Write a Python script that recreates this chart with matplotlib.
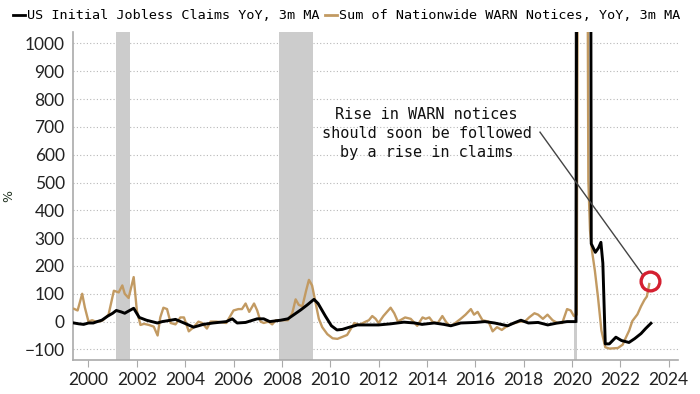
import matplotlib
matplotlib.use('Agg')
import matplotlib.pyplot as plt
from matplotlib.lines import Line2D

# Sum of Nationwide WARN Notices, YoY, 3m MA (%)
warn_t = [1999.4, 1999.55, 1999.74, 1999.85, 2000.0, 2000.15, 2000.3, 2000.45, 2000.6, 2000.83,
          2001.05, 2001.25, 2001.4, 2001.5, 2001.66, 2001.87, 2002.0, 2002.15, 2002.3, 2002.5,
          2002.7, 2002.86, 2002.97, 2003.1, 2003.25, 2003.4, 2003.6, 2003.8, 2003.95, 2004.15,
          2004.35, 2004.55, 2004.7, 2004.9, 2005.05, 2005.3, 2005.7, 2006.0, 2006.2, 2006.35,
          2006.5, 2006.65, 2006.85, 2006.98, 2007.12, 2007.25, 2007.45, 2007.6, 2007.75, 2007.95,
          2008.25, 2008.43, 2008.57, 2008.7, 2008.85, 2009.0, 2009.12, 2009.25, 2009.4, 2009.53,
          2009.67, 2009.88, 2010.1, 2010.3, 2010.5, 2010.7, 2011.0, 2011.2, 2011.47, 2011.6,
          2011.74, 2011.88, 2012.0, 2012.2, 2012.5, 2012.65, 2012.8, 2013.0, 2013.1, 2013.33,
          2013.6, 2013.82, 2013.95, 2014.1, 2014.25, 2014.45, 2014.64, 2014.8, 2014.95, 2015.1,
          2015.4, 2015.6, 2015.82, 2015.95, 2016.1, 2016.3, 2016.55, 2016.72, 2016.9, 2017.1,
          2017.25, 2017.45, 2017.65, 2017.85, 2018.05, 2018.23, 2018.45, 2018.6, 2018.8, 2018.99,
          2019.2, 2019.4, 2019.6, 2019.8, 2019.95, 2020.08, 2020.2, 2020.28, 2020.6, 2020.68,
          2020.75, 2020.83, 2020.95, 2021.08, 2021.22, 2021.38, 2021.55, 2021.9, 2022.1, 2022.24,
          2022.37, 2022.5, 2022.71, 2022.86, 2023.0, 2023.1, 2023.2]
warn_v = [46, 40, 100, 51, 0, 5, 0, 0, 5, 25,
          111, 105, 130, 100, 85, 160, 40, -12, -8, -12,
          -18, -50, 15, 50, 45, -5, -10, 15, 15, -35,
          -20, 0, -5, -25, 0, 0, -5, 40, 45, 45,
          65, 35, 65, 40, 0, -5, 0, -10, 5, 5,
          5, 30, 80, 60, 55, 110, 150, 130, 65, 10,
          -20, -45, -60, -62, -55, -48, -5, -12, 0, 5,
          20, 10, -5, 20, 50, 30, 0, 10, 15, 10,
          -15, 15, 10, 15, -2, -5, 20, -2, -15, -10,
          10, 25, 45, 25, 35, 5, 0, -35, -20, -30,
          -20, -10, -5, 0, 0, 15, 30, 25, 10, 25,
          5, -5, -5, 45, 40, 20, 25, 2500, 2500, 507,
          327, 255, 183, 87, -32, -92, -97, -95, -83, -56,
          -32, 2, 26, 55, 78, 90, 135]

# US Initial Jobless Claims YoY, 3m MA
claims_t = [1999.4, 1999.6, 1999.8, 2000.0, 2000.2, 2000.36, 2000.55, 2000.8, 2001.0, 2001.15,
            2001.35, 2001.5, 2001.6, 2001.87, 2002.1, 2002.4, 2002.85, 2003.05, 2003.4, 2003.6,
            2003.95, 2004.35, 2004.75, 2005.15, 2005.7, 2005.95, 2006.15, 2006.5, 2006.98, 2007.25,
            2007.5, 2007.95, 2008.25, 2008.5, 2008.78, 2009.05, 2009.33, 2009.5, 2009.8, 2010.05,
            2010.28, 2010.5, 2010.8, 2011.13, 2011.5, 2012.0, 2012.5, 2013.05, 2013.5, 2013.8,
            2014.3, 2014.7, 2014.99, 2015.4, 2016.0, 2016.4, 2016.8, 2017.34, 2017.6, 2017.89,
            2018.2, 2018.6, 2019.0, 2019.4, 2019.8, 2020.17, 2020.22, 2020.76, 2020.8, 2020.97,
            2021.1, 2021.2, 2021.28, 2021.38, 2021.55, 2021.82, 2022.05, 2022.36, 2022.6, 2022.86,
            2023.05, 2023.27]
claims_v = [-5, -8, -10, -5, -5, 0, 5, 20, 30, 40,
            35, 30, 35, 48, 15, 5, -5, 0, 5, 8,
            -5, -20, -10, -5, 0, 10, -5, -3, 10, 10,
            0, 5, 10, 25, 42, 60, 80, 65, 20, -15,
            -30, -28, -20, -12, -12, -12, -8, -2, -5, -10,
            -5, -10, -15, -5, -3, 0, -5, -15, -5, 5,
            -5, -3, -12, -5, 0, 0, 2500, 2500, 280, 249,
            265, 285, 210, -80, -80, -56, -68, -75, -61, -43,
            -25, -6]

recessions = [(2001.12, 2001.72), (2007.89, 2009.30), (2020.08, 2020.2)]
year_ticks = list(range(2000, 2025, 2))
pct_ticks = list(range(-100, 1001, 100))

tan = '#c29a62'

fig = plt.figure(figsize=(7, 3.94), dpi=100)
ax = fig.add_axes([0.1043, 0.0863, 0.8643, 0.8332])

for a, b in recessions:
    ax.axvspan(a, b, color='#cccccc', lw=0, zorder=1)

ax.plot(warn_t, warn_v, color=tan, lw=1.7, zorder=3)
ax.plot(claims_t, claims_v, color='black', lw=2.1, zorder=4)

ax.set_xlim(1999.36, 2024.39)
ax.set_ylim(-138, 1042)
ax.set_xticks(year_ticks)
ax.set_yticks(pct_ticks)
ax.yaxis.grid(True, color='#b8b8b8', lw=0.8, linestyle=(0, (1, 2)), zorder=0)
ax.set_axisbelow(True)

for s in ['top', 'right']:
    ax.spines[s].set_visible(False)
for s in ['left', 'bottom']:
    ax.spines[s].set_color('#aaaaaa')
    ax.spines[s].set_linewidth(1.2)

ax.tick_params(axis='y', length=0, pad=6, labelsize=12.5, labelcolor='#222222')
ax.tick_params(axis='x', length=5, color='#aaaaaa', pad=4, labelsize=12.5, labelcolor='#222222')
for lab in ax.get_xticklabels() + ax.get_yticklabels():
    lab.set_family('Lato')

ax.set_ylabel('%', fontsize=9, color='#223322')
ax.yaxis.set_label_coords(-0.096, 0.5)

# annotation
ax.text(2013.99, 676, 'Rise in WARN notices\nshould soon be followed\nby a rise in claims',
        ha='center', va='center', family='DejaVu Sans Mono', fontsize=11, linespacing=1.35,
        color='#111111', zorder=6)
ax.plot([2018.68, 2022.94], [681, 167], color='#444444', lw=1, zorder=5)
ax.plot([2023.24], [145], 'o', ms=13.5, mfc='none', mec='#d42030', mew=2.4, zorder=7)

handles = [Line2D([], [], color='black', lw=2), Line2D([], [], color=tan, lw=2)]
fig.legend(handles, ['US Initial Jobless Claims YoY, 3m MA',
                     'Sum of Nationwide WARN Notices, YoY, 3m MA'],
           loc='upper left', bbox_to_anchor=(0.005, 1.0), ncol=2, frameon=False,
           prop={'family': 'DejaVu Sans Mono', 'size': 9.7},
           handlelength=0.9, handletextpad=0.15, columnspacing=0.4, borderaxespad=0.3)

fig.savefig('out.png', dpi=100)
